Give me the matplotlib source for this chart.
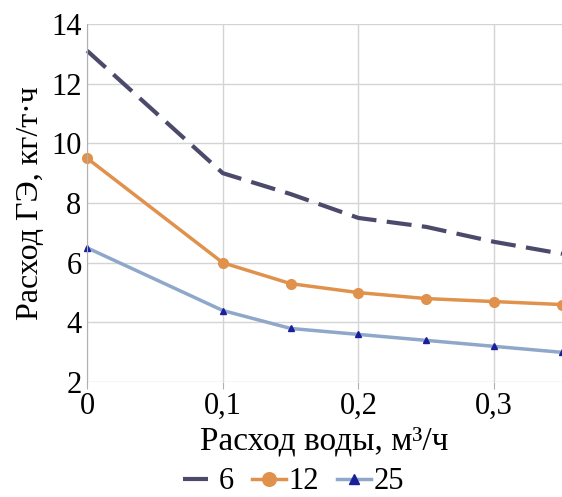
import matplotlib
matplotlib.use("Agg")
import matplotlib.pyplot as plt

x = [0, 0.1, 0.15, 0.2, 0.25, 0.3, 0.35]
s6 = [13.1, 9.0, 8.3, 7.5, 7.2, 6.7, 6.3]
s12 = [9.5, 6.0, 5.3, 5.0, 4.8, 4.7, 4.6]
s25 = [6.5, 4.4, 3.8, 3.6, 3.4, 3.2, 3.0]
labels = ["6", "12", "25"]
xticks = [0, 0.1, 0.2, 0.3]
xticklabels = ["0", "0,1", "0,2", "0,3"]
yticks = [2, 4, 6, 8, 10, 12, 14]

plt.rcParams['font.family'] = ['Liberation Serif', 'DejaVu Serif']

fig = plt.figure(figsize=(5.62, 4.97), dpi=100)
ax = fig.add_axes([0.155, 0.231, 0.845, 0.721])

ax.plot(x, s6, color='#4b4a6b', lw=3, dashes=(6, 2.5), label=labels[0], clip_on=False)
ax.plot(x, s12, color='#e0924d', lw=2.5, marker='o', ms=7, label=labels[1], clip_on=False)
ax.plot(x, s25, color='#8fa7c9', lw=2.5, marker='^', ms=5, mfc='#1a1f9a', mec='#1a1f9a',
        label=labels[2], clip_on=False)

ax.set_xlim(0, 0.35)
ax.set_ylim(2, 14)
ax.set_xticks(xticks)
ax.set_xticklabels(xticklabels)
ax.set_yticks(yticks)
ax.grid(True, color='#d4d4d4', lw=1)
ax.set_axisbelow(True)
for sp in ['top', 'right', 'bottom']:
    ax.spines[sp].set_visible(False)
ax.spines['left'].set_color('#b0b0b0')
ax.tick_params(axis='x', length=5, color='#b0b0b0', labelsize=22, pad=2)
ax.tick_params(axis='y', length=0, labelsize=22, pad=4)

ax.set_xlabel('Расход воды, м³/ч', fontsize=24, labelpad=4)
ax.set_ylabel('Расход ГЭ, кг/т·ч', fontsize=23, labelpad=4)

leg = ax.legend(loc='center', bbox_to_anchor=(0.434, -0.278), ncol=3, frameon=False,
                fontsize=22, handlelength=1.1, handletextpad=0.08, columnspacing=0.6,
                borderpad=0, borderaxespad=0, markerscale=1.4)

fig.savefig('out.png', dpi=100)
